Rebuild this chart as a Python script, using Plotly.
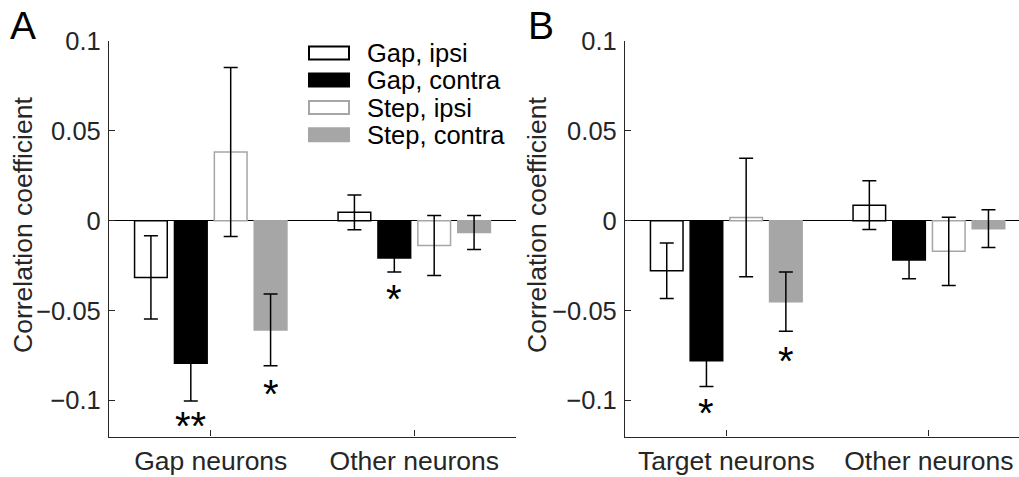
import plotly.graph_objects as go

# ---------------- data ----------------
series_names = ["Gap, ipsi", "Gap, contra", "Step, ipsi", "Step, contra"]

cats_A = ["Gap neurons", "Other neurons"]
means_A = {
    "Gap, ipsi":    [-0.0315, 0.0047],
    "Gap, contra":  [-0.0793, -0.0207],
    "Step, ipsi":   [0.0383, -0.0137],
    "Step, contra": [-0.0607, -0.0065],
}
errs_A = {
    "Gap, ipsi":    [0.0232, 0.0097],
    "Gap, contra":  [0.0210, 0.0078],
    "Step, ipsi":   [0.0470, 0.0167],
    "Step, contra": [0.0200, 0.0095],
}

cats_B = ["Target neurons", "Other neurons"]
means_B = {
    "Gap, ipsi":    [-0.0278, 0.0087],
    "Gap, contra":  [-0.0778, -0.0218],
    "Step, ipsi":   [0.0018, -0.0170],
    "Step, contra": [-0.0450, -0.0044],
}
errs_B = {
    "Gap, ipsi":    [0.0155, 0.0135],
    "Gap, contra":  [0.0144, 0.0104],
    "Step, ipsi":   [0.0330, 0.0190],
    "Step, contra": [0.0165, 0.0105],
}

# significance stars: (panel, category index, series, y value, text)
stars = [
    ("A", 0, "Gap, contra", -0.1113, "**"),
    ("A", 0, "Step, contra", -0.0936, "*"),
    ("A", 1, "Gap, contra", -0.0410, "*"),
    ("B", 0, "Gap, contra", -0.1044, "*"),
    ("B", 0, "Step, contra", -0.0754, "*"),
]

y_tickvals = [0.1, 0.05, 0, -0.05, -0.1]
y_ticktext = ["0.1", "0.05", "0", "\u22120.05", "\u22120.1"]
y_label = "Correlation coefficient"

# ---------------- styles ----------------
GRAY = "#a6a6a6"
AX = "#262626"
FONT = "Liberation Sans, Arial, sans-serif"
W, H = 1019, 477
styles = {
    "Gap, ipsi":    dict(color="white", line=dict(color="black", width=1.5)),
    "Gap, contra":  dict(color="black", line=dict(color="black", width=1.5)),
    "Step, ipsi":   dict(color="white", line=dict(color=GRAY, width=1.5)),
    "Step, contra": dict(color=GRAY, line=dict(color=GRAY, width=1.5)),
}

fig = go.Figure()
for panel, cats, means, errs, xa, ya in [
    ("A", cats_A, means_A, errs_A, "x", "y"),
    ("B", cats_B, means_B, errs_B, "x2", "y2"),
]:
    for s in series_names:
        fig.add_trace(go.Bar(
            x=cats, y=means[s], name=s, xaxis=xa, yaxis=ya,
            marker=styles[s], showlegend=False,
            error_y=dict(type="data", array=errs[s], color="black",
                         thickness=1.5, width=7),
        ))

BARGAP = 0.216
slot = (1 - BARGAP) / 4
offsets = {s: (i - 1.5) * slot for i, s in enumerate(series_names)}

axis_common = dict(showline=True, linecolor=AX, linewidth=1.3, ticks="inside",
                   ticklen=6, tickcolor=AX, tickwidth=1.3, showgrid=False,
                   mirror=False, automargin=False)

x_font = dict(family=FONT, size=26.5, color=AX)
y_font = dict(family=FONT, size=25.5, color=AX)

y_dom = [1 - 436.5 / H, 1 - 41 / H]
fig.update_layout(
    width=W, height=H, margin=dict(l=0, r=0, t=0, b=0, autoexpand=False),
    paper_bgcolor="white", plot_bgcolor="white",
    barmode="group", bargap=BARGAP, bargroupgap=0.18,
    font=dict(family=FONT, color=AX),
    xaxis=dict(domain=[109 / W, 516 / W], range=[-0.5, 1.5], type="category",
               anchor="y", ticklabelstandoff=1, tickfont=x_font, **axis_common),
    xaxis2=dict(domain=[625 / W, 1.0], range=[-0.5, -0.5 + (W - 625) / 202.6],
                type="category", anchor="y2", ticklabelstandoff=1,
                tickfont=x_font, **axis_common),
    yaxis=dict(domain=y_dom, range=[-0.12, 0.1], anchor="x",
               tickvals=y_tickvals, ticktext=y_ticktext,
               zeroline=True, zerolinecolor="black", zerolinewidth=1.3,
               ticklabelstandoff=2, tickfont=y_font, **axis_common),
    yaxis2=dict(domain=y_dom, range=[-0.12, 0.1], anchor="x2",
                tickvals=y_tickvals, ticktext=y_ticktext,
                zeroline=True, zerolinecolor="black", zerolinewidth=1.3,
                ticklabelstandoff=2, tickfont=y_font, **axis_common),
)

annotations = []
# stars
for panel, ci, s, yv, txt in stars:
    annotations.append(dict(
        x=ci + offsets[s], y=yv, text=txt, showarrow=False,
        xref="x" if panel == "A" else "x2", yref="y" if panel == "A" else "y2",
        xanchor="center", yanchor="middle",
        font=dict(family=FONT, size=40, color="black"), yshift=-5,
    ))
# axis titles
for xp in [23, 537]:
    annotations.append(dict(
        x=xp / W, y=1 - 225 / H, xref="paper", yref="paper", text=y_label,
        xanchor="center", yanchor="middle",
        textangle=-90, showarrow=False, font=dict(family=FONT, size=26.5, color=AX),
    ))
# panel letters
for letter, xp in [("A", 23), ("B", 541)]:
    annotations.append(dict(
        x=xp / W, y=1 - 26 / H, xref="paper", yref="paper", text=letter,
        xanchor="center", yanchor="middle",
        showarrow=False, font=dict(family=FONT, size=39, color="black"),
    ))

# manual legend
shapes = []
leg_rows = [53, 80, 107.5, 134.7]
for s, cy in zip(series_names, leg_rows):
    st = styles[s]
    shapes.append(dict(
        type="rect", xref="paper", yref="paper",
        x0=309 / W, x1=349 / W, y0=1 - (cy + 6.5) / H, y1=1 - (cy - 6.5) / H,
        fillcolor=st["color"], line=dict(color=st["line"]["color"], width=2),
    ))
    annotations.append(dict(
        x=365 / W, y=1 - cy / H, xref="paper", yref="paper", text=s,
        xanchor="left", yanchor="middle", showarrow=False,
        font=dict(family=FONT, size=25.5, color="black"),
    ))

fig.update_layout(annotations=annotations, shapes=shapes)
fig.write_html("out.html")
